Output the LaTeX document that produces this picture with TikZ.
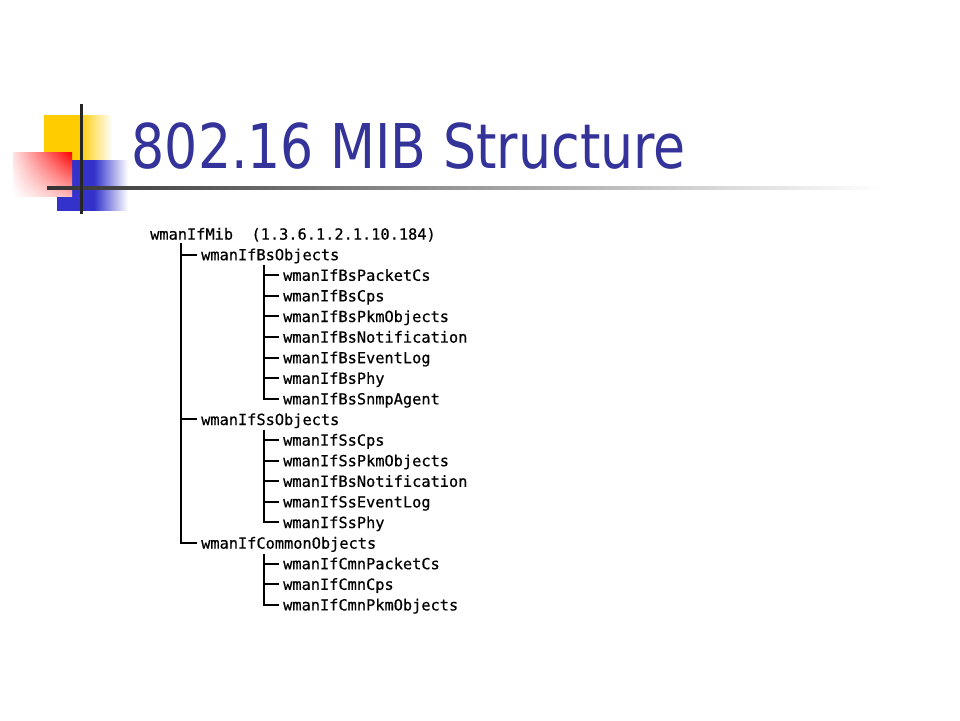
\documentclass[tikz,border=0pt]{standalone}
\usepackage{fontspec}
\usetikzlibrary{shadings}
\setmainfont{DejaVu Sans}
\newfontfamily\treefont[FakeBold=0.6]{DejaVu Sans Mono}
\newfontfamily\titlefont{DejaVu Sans}
\definecolor{titleblue}{RGB}{51,51,153}
\definecolor{decoyellow}{RGB}{255,204,0}
\definecolor{decoblue}{RGB}{51,51,204}
\pgfdeclarehorizontalshading{yelfade}{100bp}{color(0bp)=(decoyellow); color(51bp)=(decoyellow); color(75bp)=(white); color(100bp)=(white)}
\pgfdeclarehorizontalshading{bluefade}{100bp}{color(0bp)=(decoblue); color(51bp)=(decoblue); color(75bp)=(white); color(100bp)=(white)}
\pgfdeclarehorizontalshading{rulefade}{100bp}{color(0bp)=(black!80); color(25bp)=(black!80); color(75bp)=(white); color(100bp)=(white)}
\begin{document}
\begin{tikzpicture}[x=1pt,y=-1pt,
  treetext/.style={anchor=west,inner ysep=0pt,inner xsep=4pt,text height=11.2pt,text depth=0pt,
    font=\treefont\fontsize{15.3}{18}\selectfont,text=black},
  branch/.style={line width=2pt,black}]
\useasboundingbox (0,0) rectangle (960,720);
% decoration
\shade[shading=yelfade] (44,115) rectangle (112,160);
\shade[shading=bluefade] (57,160) rectangle (128,210);
\shade[shading=bilinear interpolation,upper left=red!12!white,upper right=red,lower left=white,lower right=red!28!white] (13,152) rectangle (72,196);
\shade[shading=rulefade] (47,186.3) rectangle (880,189.3);
\fill[black!85] (80,104) rectangle (82.5,214);
% title
\node[anchor=base west,inner sep=0pt,text=titleblue] (title) at (131.5,168)
  {\scalebox{0.845}[1]{\titlefont\fontsize{61.7}{70}\selectfont 802.16 MIB Structure}};
% tree
\node[treetext] (root) at (146,234) {wmanIfMib\ \ (1.3.6.1.2.1.10.184)};
\node[treetext] (bs)  at (197,254.6) {wmanIfBsObjects};
\node[treetext] (bs1) at (279,275.2) {wmanIfBsPacketCs};
\node[treetext] (bs2) at (279,295.8) {wmanIfBsCps};
\node[treetext] (bs3) at (279,316.4) {wmanIfBsPkmObjects};
\node[treetext] (bs4) at (279,337.0) {wmanIfBsNotification};
\node[treetext] (bs5) at (279,357.6) {wmanIfBsEventLog};
\node[treetext] (bs6) at (279,378.2) {wmanIfBsPhy};
\node[treetext] (bs7) at (279,398.8) {wmanIfBsSnmpAgent};
\node[treetext] (ss)  at (197,419.4) {wmanIfSsObjects};
\node[treetext] (ss1) at (279,440.0) {wmanIfSsCps};
\node[treetext] (ss2) at (279,460.6) {wmanIfSsPkmObjects};
\node[treetext] (ss3) at (279,481.2) {wmanIfBsNotification};
\node[treetext] (ss4) at (279,501.8) {wmanIfSsEventLog};
\node[treetext] (ss5) at (279,522.4) {wmanIfSsPhy};
\node[treetext] (cm)  at (197,543.0) {wmanIfCommonObjects};
\node[treetext] (cm1) at (279,563.6) {wmanIfCmnPacketCs};
\node[treetext] (cm2) at (279,584.2) {wmanIfCmnCps};
\node[treetext] (cm3) at (279,604.8) {wmanIfCmnPkmObjects};
% trunk coordinates
\coordinate (t0) at (181,243);
\coordinate (tbs) at (264,265);
\coordinate (tss) at (264,430);
\coordinate (tcm) at (264,554);
\foreach \n in {bs,ss,cm} \draw[branch] (t0) |- (\n.west);
\foreach \n in {bs1,bs2,bs3,bs4,bs5,bs6,bs7} \draw[branch] (tbs) |- (\n.west);
\foreach \n in {ss1,ss2,ss3,ss4,ss5} \draw[branch] (tss) |- (\n.west);
\foreach \n in {cm1,cm2,cm3} \draw[branch] (tcm) |- (\n.west);
\end{tikzpicture}
\end{document}
